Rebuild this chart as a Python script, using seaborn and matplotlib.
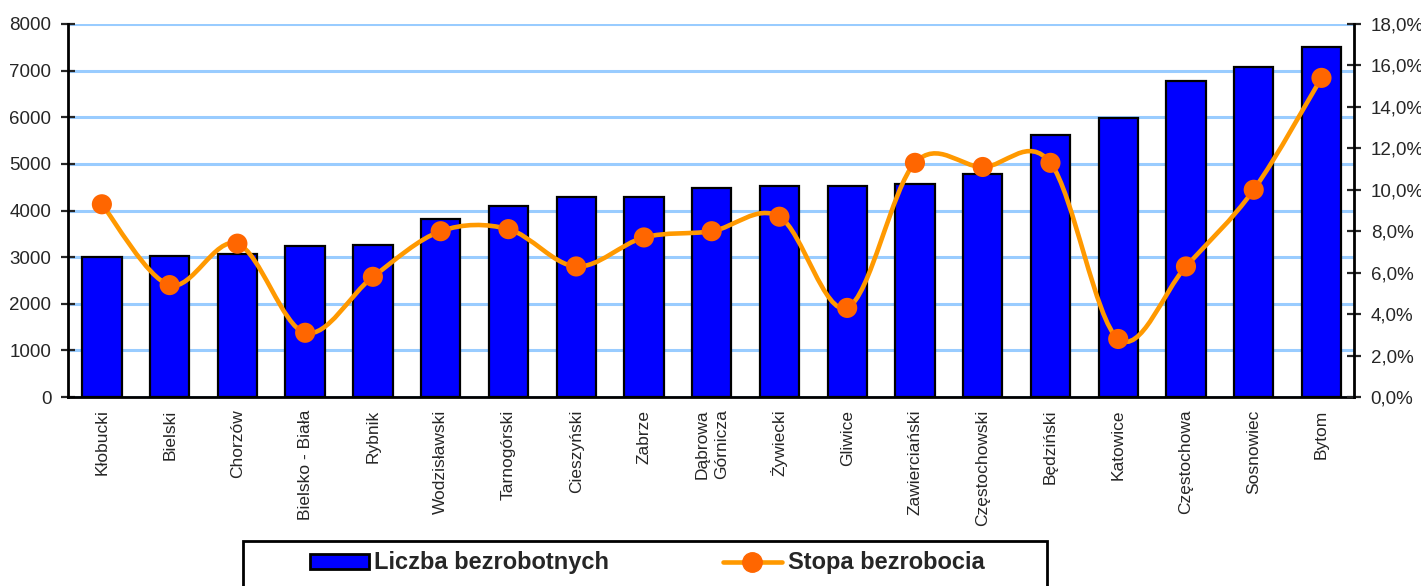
import numpy as np
import pandas as pd
import matplotlib
matplotlib.use('Agg')
import matplotlib.pyplot as plt
from matplotlib.path import Path
from matplotlib.patches import PathPatch, Rectangle
from matplotlib.lines import Line2D
from matplotlib.ticker import FuncFormatter
import seaborn as sns

# data
powiaty = ['Kłobucki', 'Bielski', 'Chorzów', 'Bielsko - Biała', 'Rybnik',
           'Wodzisławski', 'Tarnogórski', 'Cieszyński', 'Zabrze',
           'Dąbrowa\nGórnicza', 'Żywiecki', 'Gliwice', 'Zawierciański',
           'Częstochowski', 'Będziński', 'Katowice', 'Częstochowa',
           'Sosnowiec', 'Bytom']
liczba = [3000, 3030, 3070, 3240, 3260, 3820, 4100, 4290, 4290, 4480,
          4530, 4530, 4570, 4790, 5620, 5990, 6780, 7080, 7510]
stopa = [9.3, 5.4, 7.4, 3.1, 5.8, 8.0, 8.1, 6.3, 7.7, 8.0,
         8.7, 4.3, 11.3, 11.1, 11.3, 2.8, 6.3, 10.0, 15.4]

df = pd.DataFrame({'powiat': powiaty, 'liczba': liczba, 'stopa': stopa})

sns.set_style('white')
plt.rcParams['font.family'] = ['Liberation Sans', 'DejaVu Sans']

fig = plt.figure(figsize=(14.21, 5.86), dpi=100)
ax = fig.add_axes([68 / 1421, 1 - 397 / 586, 1286 / 1421, 373 / 586])

# gridlines behind bars
ax.set_axisbelow(True)
ax.yaxis.grid(True, color='#99CCFF', linewidth=2.2)

sns.barplot(data=df, x='powiat', y='liczba', color='#0000FF', saturation=1,
            width=0.58, edgecolor='black', linewidth=1.6, ax=ax)
ax.set_ylim(0, 8000)
ax.set_yticks(range(0, 8001, 1000))
ax.set_xlim(-0.5, 18.48)
ax.set_xlabel('')
ax.set_ylabel('')
ax.tick_params(axis='y', direction='inout', length=10, width=1.6,
               labelsize=13.5, pad=7)
ax.tick_params(axis='x', length=0, labelsize=12.5, rotation=90, pad=9)
for lbl in ax.get_xticklabels():
    lbl.set_linespacing(1.35)
for s in ['left', 'bottom']:
    ax.spines[s].set_color('black')
    ax.spines[s].set_linewidth(2)
ax.spines['top'].set_visible(False)
ax.spines['right'].set_visible(False)

# rate on the right axis
ax2 = ax.twinx()
ax2.set_ylim(0, 18)
ax2.set_yticks(np.arange(0, 18.1, 2))
ax2.yaxis.set_major_formatter(FuncFormatter(lambda v, p: f'{v:.1f}%'.replace('.', ',')))
ax2.tick_params(axis='y', direction='inout', length=10, width=1.6,
                labelsize=13.5, pad=7)
for s in ['top', 'left', 'bottom']:
    ax2.spines[s].set_visible(False)
ax2.spines['right'].set_color('black')
ax2.spines['right'].set_linewidth(2)
ax2.grid(False)

# smoothed line (Excel-style Catmull-Rom bezier)
xs = np.arange(len(stopa), dtype=float)
ys = np.array(stopa, dtype=float)
verts = [(xs[0], ys[0])]
codes = [Path.MOVETO]
n = len(xs)
for i in range(n - 1):
    i0 = max(i - 1, 0)
    i3 = min(i + 2, n - 1)
    c1 = (xs[i] + (xs[i + 1] - xs[i0]) / 6, ys[i] + (ys[i + 1] - ys[i0]) / 6)
    c2 = (xs[i + 1] - (xs[i3] - xs[i]) / 6, ys[i + 1] - (ys[i3] - ys[i]) / 6)
    verts += [c1, c2, (xs[i + 1], ys[i + 1])]
    codes += [Path.CURVE4] * 3
ax2.add_patch(PathPatch(Path(verts, codes), facecolor='none',
                        edgecolor='#FF9900', linewidth=3.3, zorder=3))
sns.scatterplot(x=xs, y=ys, color='#FF6600', s=210, edgecolor='none',
                zorder=4, ax=ax2, legend=False)
ax2.set_xlim(-0.5, 18.48)

# legend box
fig.patches.append(Rectangle((243 / 1421, -0.05), (1047 - 243) / 1421, 0.05 + 1 - 541 / 586,
                             transform=fig.transFigure, facecolor='white',
                             edgecolor='black', linewidth=2))
handles = [Rectangle((0, 0), 1, 1, facecolor='#0000FF', edgecolor='black', linewidth=2),
           Line2D([0], [0], color='#FF9900', linewidth=3.3, marker='o',
                  markersize=14, markerfacecolor='#FF6600', markeredgecolor='#FF6600')]
fig.legend(handles, ['Liczba bezrobotnych', 'Stopa bezrobocia'],
           loc='center', bbox_to_anchor=(647 / 1421, 1 - 563 / 586), ncol=2,
           frameon=False, prop={'weight': 'bold', 'size': 17},
           handlelength=2.5, handleheight=0.6, handletextpad=0.25,
           columnspacing=4.8)

fig.savefig('out.png', dpi=100)
